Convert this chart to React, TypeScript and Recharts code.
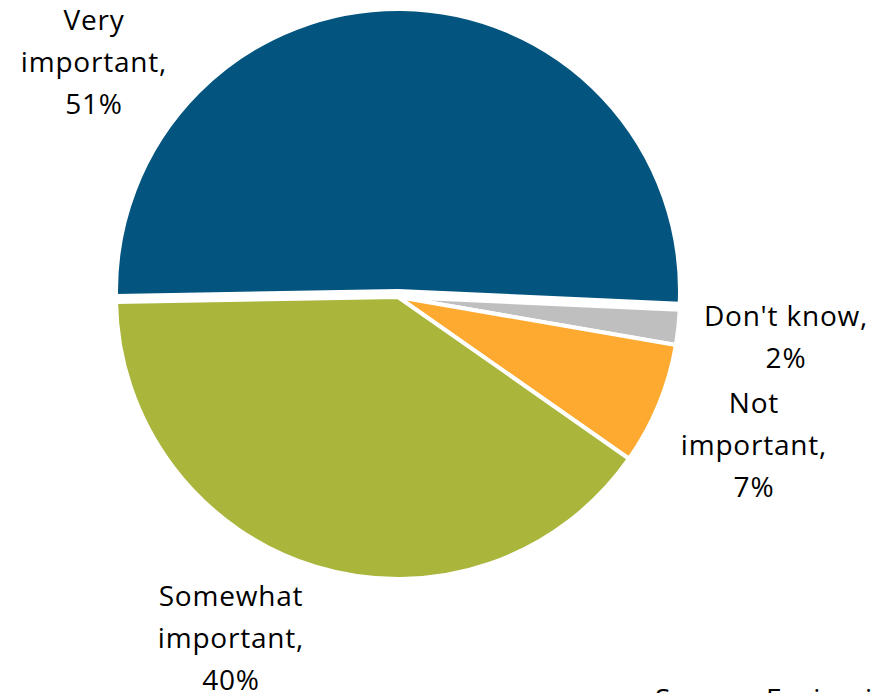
import { PieChart, Pie, Cell } from "recharts";

// Survey shares, read clockwise from 9 o'clock
const categories = ["Very important", "Don't know", "Not important", "Somewhat important"];
const shares = [51, 2, 7, 40];
// how each category name breaks over label lines
const nameLines = [["Very", "important"], ["Don't know"], ["Not", "important"], ["Somewhat", "important"]];
const colors = ["#03557F", "#BFBFBF", "#FEA92F", "#AAB53B"];

const data = categories.map((name, i) => ({ name, value: shares[i] }));

const FONT = "'Open Sans', 'Noto Sans', sans-serif";
const FONT_SIZE = 28;
const SPACING = 0.8;
const CX = 398;
const CY = 297;
const R = 282;
const EXPLODE = 6; // very important slice is pulled out a bit
const LINE_H = 42;

// label anchor (first baseline) relative to pie centre
const labelOffset = [
  { dx: -304, dy: -267 },
  { dx: 388, dy: 29 },
  { dx: 356, dy: 116 },
  { dx: -167, dy: 309 },
];

interface LabelProps {
  cx: number;
  cy: number;
  index: number;
}

function SliceLabel({ cx, cy, index }: LabelProps) {
  const off = labelOffset[index];
  const lines = [...nameLines[index]];
  lines[lines.length - 1] += ",";
  lines.push(`${shares[index]}%`);
  return (
    <text
      x={cx + off.dx}
      y={cy + off.dy}
      textAnchor="middle"
      fill="#000"
      fontFamily={FONT}
      fontSize={FONT_SIZE}
      letterSpacing={SPACING}
    >
      {lines.map((l, i) => (
        <tspan key={i} x={cx + off.dx} dy={i === 0 ? 0 : LINE_H}>
          {l}
        </tspan>
      ))}
    </text>
  );
}

export default function App() {
  return (
    <div style={{ position: "absolute", left: 0, top: 0, width: 887, height: 693, background: "#fff", overflow: "hidden" }}>
      <PieChart width={887} height={693} margin={{ top: 0, right: 0, bottom: 0, left: 0 }}>
        <Pie
          data={data}
          dataKey="value"
          nameKey="name"
          cx={CX}
          cy={CY}
          outerRadius={R}
          startAngle={181}
          endAngle={-179}
          stroke="#fff"
          strokeWidth={4}
          labelLine={false}
          label={(p: LabelProps) => <SliceLabel cx={CX} cy={CY} index={p.index} />}
          isAnimationActive={false}
        >
          {data.map((d, i) => (
            <Cell key={d.name} fill={i === 0 ? "transparent" : colors[i]} stroke={i === 0 ? "none" : "#fff"} />
          ))}
        </Pie>
        {/* exploded slice drawn on its own */}
        <Pie
          data={data}
          dataKey="value"
          nameKey="name"
          cx={CX}
          cy={CY - EXPLODE}
          outerRadius={R}
          startAngle={181}
          endAngle={-179}
          strokeWidth={4}
          labelLine={false}
          isAnimationActive={false}
        >
          {data.map((d, i) => (
            <Cell key={d.name} fill={i === 0 ? colors[0] : "transparent"} stroke={i === 0 ? "#fff" : "none"} />
          ))}
        </Pie>
      </PieChart>
      <div
        style={{
          position: "absolute",
          left: 655,
          top: 684,
          fontFamily: FONT,
          fontSize: FONT_SIZE,
          letterSpacing: SPACING,
          lineHeight: "28px",
          whiteSpace: "nowrap",
          color: "#000",
        }}
      >
        Source: Fusion insights
      </div>
    </div>
  );
}
